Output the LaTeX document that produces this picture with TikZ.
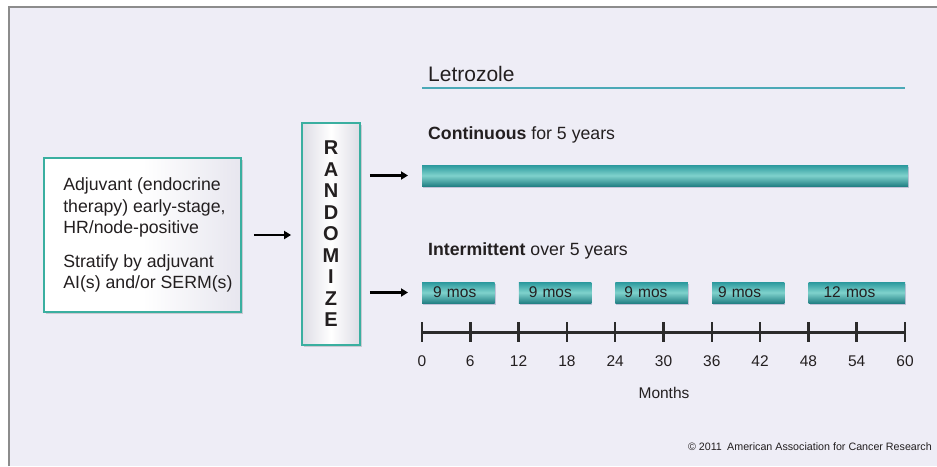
\documentclass[tikz,border=0pt]{standalone}
\usepackage{fontspec}
\setmainfont{Liberation Sans}
\usetikzlibrary{arrows.meta,positioning,shadows}

\definecolor{bgpanel}{HTML}{EEEDF6}
\definecolor{framegray}{HTML}{8C8C8C}
\definecolor{boxteal}{HTML}{3AAFA0}
\definecolor{bardark}{HTML}{2A989D}
\definecolor{barlight}{HTML}{7FD2CC}
\definecolor{ruleteal}{HTML}{4BA9B7}
\definecolor{inkgray}{HTML}{231F20}
\definecolor{axisgray}{HTML}{2B2B2B}

\begin{document}
\begin{tikzpicture}[
  x=1pt,y=-1pt,
  every node/.style={text=inkgray},
  cohortbox/.style={draw=boxteal,line width=1.8pt,minimum width=197pt,minimum height=154pt,
    left color=white,right color=black!3!bgpanel,middle color=white,
    drop shadow={shadow xshift=1.5pt,shadow yshift=-1.5pt,opacity=0.15,fill=black}},
  cohorttext/.style={inner sep=0pt,align=left,font=\fontsize{17.7}{21.7}\selectfont},
  randbox/.style={draw=boxteal,line width=1.8pt,minimum width=58pt,minimum height=222pt,
    left color=black!7!bgpanel,right color=black!7!bgpanel,middle color=white,
    align=center,font=\fontsize{20}{21.5}\selectfont\bfseries,
    drop shadow={shadow xshift=1.5pt,shadow yshift=-1.5pt,opacity=0.15,fill=black}},
  bar/.style={inner sep=0pt,minimum height=21pt,
    top color=bardark,bottom color=bardark!85!black,middle color=barlight,
    drop shadow={shadow xshift=1pt,shadow yshift=-2pt,opacity=0.18,fill=black!70!blue}},
  barlbl/.style={font=\fontsize{15.5}{18}\selectfont,align=left},
  head/.style={inner sep=0pt,font=\fontsize{21}{25}\selectfont},
  armlbl/.style={inner sep=0pt,font=\fontsize{17.7}{21}\selectfont},
  axislbl/.style={font=\fontsize{15.5}{18}\selectfont},
  copyr/.style={inner sep=0pt,font=\fontsize{10.7}{13}\selectfont},
  arr/.style={line width=2.2pt,draw=black,-{Triangle[length=7pt,width=8pt]}}
]
\useasboundingbox (0,0) rectangle (937,466);
% panel and frame
\fill[white] (0,0) rectangle (937,466);
\fill[bgpanel] (9,7) rectangle (937,466);
\draw[framegray,line width=2.7pt] (9,466) -- (9,7) -- (937,7);

% eligibility and randomisation
\node[cohortbox] (cohort) at (142.5,235) {};
\node[cohorttext,anchor=west] (cohorttxt) at ([xshift=20pt]cohort.west)
  {Adjuvant (endocrine\\therapy) early-stage,\\HR/node-positive\\[11.6pt]Stratify by adjuvant\\AI(s) and/or SERM(s)};
\node[randbox] (rand) at (331,234) {R\\A\\N\\D\\O\\M\\I\\Z\\E};

% treatment arms
\node[head,anchor=base west] (letro) at (428,81.7) {Letrozole};
\draw[ruleteal,line width=2pt] (422,88.3) -- (905,88.3);
\node[armlbl,anchor=base west] (contlbl) at (428,139.3) {\textbf{Continuous} for 5 years};
\node[bar,anchor=west,minimum width=486pt] (cont) at (422,175.5) {};
\node[armlbl,anchor=base west] (intlbl) at (428,255.5) {\textbf{Intermittent} over 5 years};
\foreach \start/\len/\off/\lbl [count=\i,
    evaluate=\len as \w using \len*8.05,
    evaluate=\start as \xs using 422+\start*8.05] in
    {0/9/11/9 mos,12/9/10/9 mos,24/9/9/9 mos,36/9/6/9 mos,48/12/15/12 mos}
  \node[bar,barlbl,anchor=west,minimum width=\w pt,text width=\w pt] (int\i) at (\xs,292.5) {\hspace*{\off pt}\lbl};

% time axis
\draw[axisgray,line width=2.8pt] (422,332.3) -- (905,332.3);
\foreach \m in {0,6,...,60} {
  \draw[axisgray,line width=2.5pt] (422+\m*8.05,322.3) -- (422+\m*8.05,341.5);
  \node[axislbl] (m\m) at (422+\m*8.05,361) {\m};
}
\node[axislbl] (months) at (664,392.7) {Months};
\node[copyr,anchor=east] (aacr) at (932,446.7) {© 2011\enspace American Association for Cancer Research};

\draw[arr,shorten <=12pt,shorten >=10pt] (cohort.east) -- (cohort.east -| rand.west);
\draw[arr,shorten <=9pt,shorten >=14pt] (rand.east |- cont.west) -- (cont.west);
\draw[arr,shorten <=9pt,shorten >=14pt] (rand.east |- int1.west) -- (int1.west);
\end{tikzpicture}
\end{document}
